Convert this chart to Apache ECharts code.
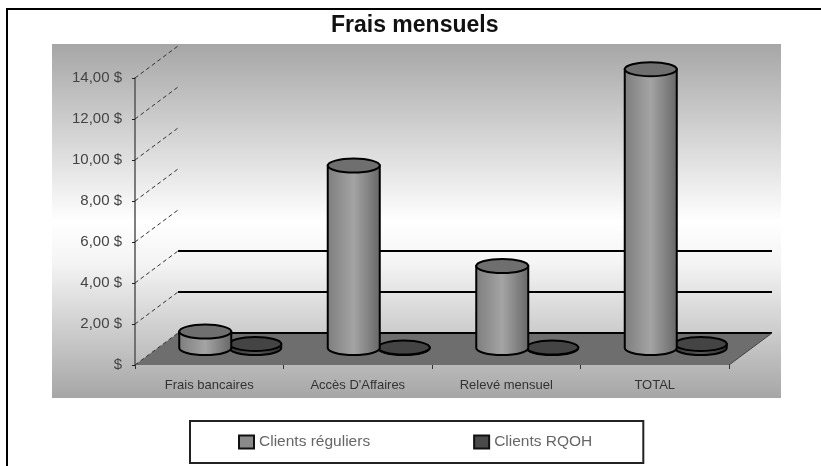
<!DOCTYPE html>
<html>
<head>
<meta charset="utf-8">
<style>
html, body { margin: 0; padding: 0; background: #fff; }
#main { width: 821px; height: 466px; filter: blur(0.5px); }
</style>
<script src="https://cdn.jsdelivr.net/npm/echarts@6/dist/echarts.min.js"></script>
</head>
<body>
<div id="main"></div>
<script>
var categories = ['Frais bancaires', "Accès D'Affaires", 'Relevé mensuel', 'TOTAL'];
var clientsReguliers = [0.8, 8.9, 4.0, 13.6];
var clientsRqoh = [0.2, 0.02, 0.02, 0.2];
var yTicks = ['$', '2,00 $', '4,00 $', '6,00 $', '8,00 $', '10,00 $', '12,00 $', '14,00 $'];
var solidBackLines = [0, 2, 4];

// fake 3D: the back wall sits this far from the axis plane
var DEPTH_X = 43, DEPTH_Y = -32;
var myChart = echarts.init(document.getElementById('main'));

// floor + grid lines going to the back wall
function renderFloor(params, api) {
    var v0 = api.coord([0, 0]);
    var x0 = v0[0] - params.coordSys.width / categories.length / 2;
    var y0 = v0[1];
    var x1 = x0 + params.coordSys.width;
    var children = [{
        type: 'polygon',
        shape: {points: [[x0, y0], [x0 + DEPTH_X, y0 + DEPTH_Y], [x1 + DEPTH_X, y0 + DEPTH_Y], [x1, y0]]},
        style: {fill: '#6e6e6e'}
    }];
    for (var i = 0; i < yTicks.length; i++) {
        var y = api.coord([0, i * 2])[1];
        children.push({
            type: 'line',
            shape: {x1: x0, y1: y, x2: x0 + DEPTH_X, y2: y + DEPTH_Y},
            style: {stroke: '#333', lineWidth: 1, lineDash: [4, 3]}
        });
    }
    solidBackLines.forEach(function (v) {
        var yb = api.coord([0, v])[1] + DEPTH_Y;
        children.push({
            type: 'line',
            shape: {x1: x0 + DEPTH_X, y1: yb, x2: x1 + DEPTH_X, y2: yb},
            style: {stroke: '#000', lineWidth: 2}
        });
    });
    children.push({
        type: 'line',
        shape: {x1: x1, y1: y0, x2: x1 + DEPTH_X, y2: y0 + DEPTH_Y},
        style: {stroke: '#444', lineWidth: 1}
    });
    return {type: 'group', children: children};
}

function cylinder(side, fill, top) {
    return function (params, api) {
        var base = api.coord([api.value(0), 0]);
        var head = api.coord([api.value(0), api.value(1)]);
        var cx = base[0] + 21 + side * 25;
        var by = base[1] - 17, ty = head[1] - 17;
        var rx = 26, ry = 7;
        var k = 0.5523;
        var body = 'M' + (cx - rx) + ' ' + ty +
            'L' + (cx - rx) + ' ' + by +
            'C' + (cx - rx) + ' ' + (by + ry * k * 1) + ' ' + (cx - rx * k) + ' ' + (by + ry) + ' ' + cx + ' ' + (by + ry) +
            'C' + (cx + rx * k) + ' ' + (by + ry) + ' ' + (cx + rx) + ' ' + (by + ry * k) + ' ' + (cx + rx) + ' ' + by +
            'L' + (cx + rx) + ' ' + ty + 'Z';
        return {
            type: 'group',
            children: [{
                type: 'path',
                shape: {pathData: body},
                style: {
                    fill: {
                        type: 'linear', x: 0, y: 0, x2: 1, y2: 0,
                        colorStops: fill
                    },
                    stroke: '#000', lineWidth: 2
                }
            }, {
                type: 'ellipse',
                shape: {cx: cx, cy: ty, rx: rx, ry: ry},
                style: {fill: top, stroke: '#000', lineWidth: 2}
            }]
        };
    };
}

var option = {
    animation: false,
    backgroundColor: '#fff',
    title: {
        text: 'Frais mensuels',
        left: 331, top: 14, padding: 0,
        textStyle: {fontFamily: 'Liberation Sans', fontSize: 23, fontWeight: 'bold', color: '#111'}
    },
    legend: {
        left: 190, top: 421, width: 453, height: 41,
        padding: [13, 51, 13, 48],
        itemGap: 103, itemWidth: 15, itemHeight: 13,
        icon: 'rect',
        borderColor: '#222', borderWidth: 2,
        textStyle: {fontFamily: 'Liberation Sans', fontSize: 15.5, color: '#666'},
        data: ['Clients réguliers', 'Clients RQOH']
    },
    grid: {left: 135, top: 78, width: 594, height: 287},
    xAxis: {
        type: 'category', data: categories,
        axisLine: {show: false},
        axisTick: {show: true, length: 4, alignWithLabel: false, lineStyle: {color: '#333'}},
        axisLabel: {fontFamily: 'Liberation Sans', fontSize: 13, color: '#333', margin: 14, interval: 0}
    },
    yAxis: {
        type: 'value', min: 0, max: 14, interval: 2,
        splitLine: {show: false},
        axisLine: {show: true, lineStyle: {color: '#555', width: 1.5}},
        axisTick: {show: true, length: 3, lineStyle: {color: '#222'}},
        axisLabel: {
            fontFamily: 'Liberation Sans', fontSize: 15, color: '#444', margin: 13,
            formatter: function (v) { return yTicks[v / 2]; }
        }
    },
    graphic: [{
        type: 'rect', z: -10, silent: true,
        shape: {x: 52, y: 44, width: 729, height: 354},
        style: {fill: {
            type: 'linear', x: 0, y: 0, x2: 0, y2: 1,
            colorStops: [
                {offset: 0, color: '#a6a6a6'},
                {offset: 0.5, color: '#ffffff'},
                {offset: 0.62, color: '#f4f4f4'},
                {offset: 1, color: '#a6a6a6'}
            ]
        }}
    }, {
        // frame only shows on top and left in the reference
        type: 'polyline', z: -9, silent: true,
        shape: {points: [[7, 466], [7, 9], [821, 9]]},
        style: {fill: 'none', stroke: '#000', lineWidth: 2}
    }],
    series: [{
        type: 'custom', name: 'floor', silent: true, z: 1,
        data: [[0, 0]],
        renderItem: renderFloor
    }, {
        type: 'custom', name: 'Clients réguliers', z: 3,
        itemStyle: {color: '#8a8a8a', borderColor: '#111', borderWidth: 1.5},
        data: clientsReguliers.map(function (v, i) { return [i, v]; }),
        encode: {x: 0, y: 1},
        renderItem: cylinder(-1, [
            {offset: 0, color: '#7d7d7d'},
            {offset: 0.5, color: '#a4a4a4'},
            {offset: 1, color: '#666'}
        ], '#6f6f6f')
    }, {
        type: 'custom', name: 'Clients RQOH', z: 2,
        itemStyle: {color: '#4a4a4a', borderColor: '#111', borderWidth: 1.5},
        data: clientsRqoh.map(function (v, i) { return [i, v]; }),
        encode: {x: 0, y: 1},
        renderItem: cylinder(1, [
            {offset: 0, color: '#3c3c3c'},
            {offset: 0.5, color: '#555'},
            {offset: 1, color: '#333'}
        ], '#444')
    }]
};
myChart.setOption(option);
</script>
</body>
</html>
